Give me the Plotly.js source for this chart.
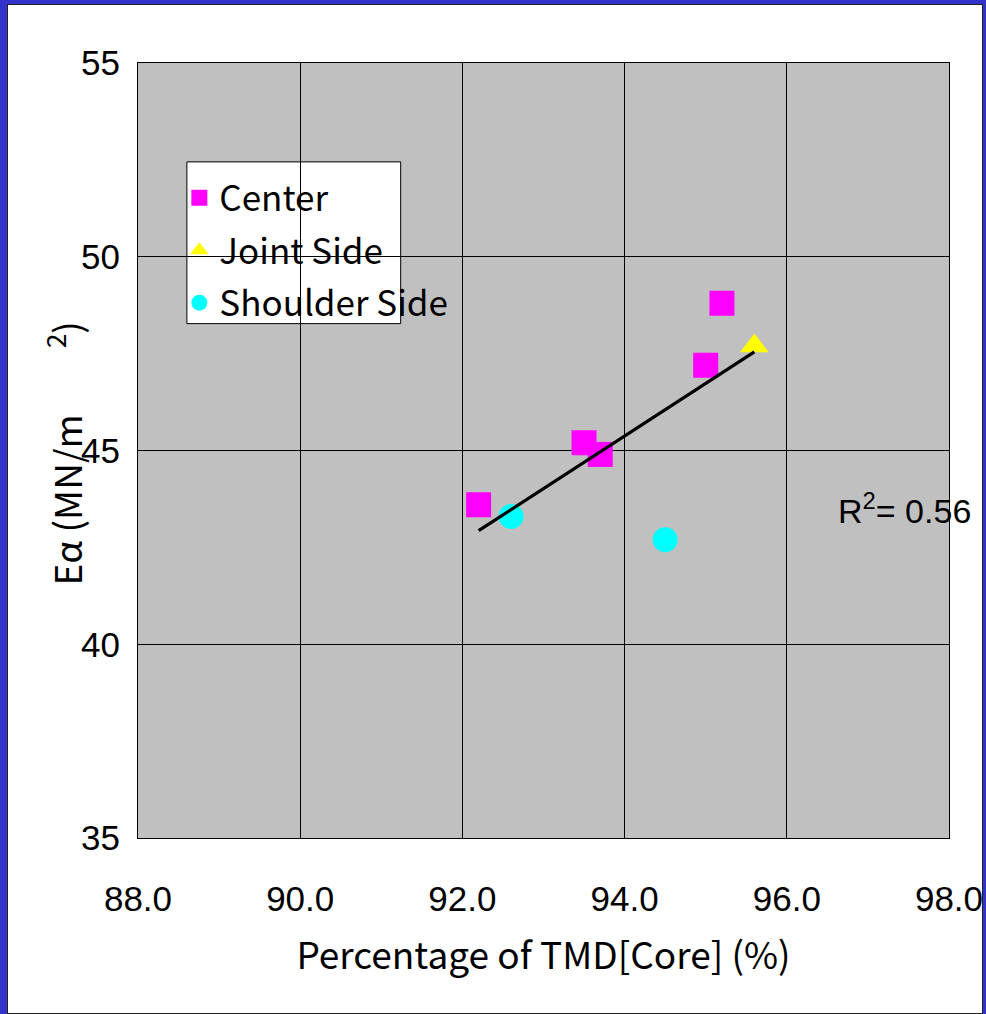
<!DOCTYPE html>
<html>
<head>
<meta charset="utf-8">
<script src="https://cdn.plot.ly/plotly-3.0.1.min.js"></script>
<style>
  html, body { margin: 0; padding: 0; background: #3333CC; width: 986px; height: 1014px; overflow: hidden; }
  #frame { position: absolute; left: 7px; top: 4px; width: 976px; height: 1010px; background: #fff; border: 1px solid #222; box-sizing: border-box; overflow: hidden; }
  #chart { position: absolute; left: 0; top: 0; width: 974px; height: 1009px; }
</style>
</head>
<body>
<div id="frame"><div id="chart"></div></div>
<script>
// Data
const centerX = [92.2, 93.5, 93.7, 95.0, 95.2];
const centerY = [43.6, 45.2, 44.9, 47.2, 48.8];
const jointX = [95.6];
const jointY = [47.7];
const shoulderX = [92.6, 94.5];
const shoulderY = [43.3, 42.7];
const xTickVals = [88, 90, 92, 94, 96, 98];
const xTickText = ["88.0", "90.0", "92.0", "94.0", "96.0", "98.0"];
const yTickVals = [35, 40, 45, 50, 55];

// Linear regression over all points
const allX = centerX.concat(jointX, shoulderX);
const allY = centerY.concat(jointY, shoulderY);
const n = allX.length;
const mx = allX.reduce((a, b) => a + b, 0) / n;
const my = allY.reduce((a, b) => a + b, 0) / n;
let sxy = 0, sxx = 0, syy = 0;
for (let i = 0; i < n; i++) {
  sxy += (allX[i] - mx) * (allY[i] - my);
  sxx += (allX[i] - mx) ** 2;
  syy += (allY[i] - my) ** 2;
}
const slope = sxy / sxx;
const intercept = my - slope * mx;
const r2 = (sxy * sxy) / (sxx * syy);
const lineX = [Math.min(...allX), Math.max(...allX)];
const lineY = lineX.map(v => intercept + slope * v);

const jpFont = '"Noto Sans CJK JP", "Noto Sans", sans-serif';
const numFont = '"Liberation Sans", Arial, sans-serif';

const traces = [
  { x: centerX, y: centerY, type: 'scatter', mode: 'markers', name: 'Center', legendgroup: 'a',
    marker: { symbol: 'square', size: 25, color: '#FF00FF' } },
  { x: jointX, y: jointY, type: 'scatter', mode: 'markers', name: 'Joint Side', legendgroup: 'b',
    marker: { symbol: 'triangle-up', size: 25, color: '#FFFF00' } },
  { x: shoulderX, y: shoulderY, type: 'scatter', mode: 'markers', name: 'Shoulder Side', legendgroup: 'c',
    marker: { symbol: 'circle', size: 25, color: '#00FFFF' } },
  { x: lineX, y: lineY, type: 'scatter', mode: 'lines', showlegend: false,
    line: { color: '#000', width: 3.2 }, hoverinfo: 'skip' }
];

const layout = {
  width: 974, height: 1009,
  margin: { l: 130, r: 33, t: 58, b: 176 },
  paper_bgcolor: '#ffffff',
  plot_bgcolor: '#C0C0C0',
  showlegend: true,
  xaxis: {
    range: [88, 98], tickvals: xTickVals, ticktext: xTickText,
    showgrid: true, gridcolor: '#000', gridwidth: 1,
    zeroline: false, showline: true, linecolor: '#000', linewidth: 1, mirror: true,
    ticks: '', ticklabelstandoff: 30, ticklabeloverflow: 'allow',
    tickfont: { family: numFont, size: 35, color: '#000' },
    title: { text: 'Percentage of TMD[Core] (%)', font: { family: jpFont, size: 37, color: '#000' }, standoff: 26 }
  },
  yaxis: {
    range: [35, 55], tickvals: yTickVals,
    showgrid: true, gridcolor: '#000', gridwidth: 1,
    zeroline: false, showline: true, linecolor: '#000', linewidth: 1, mirror: true,
    ticks: '', ticklabelstandoff: 10,
    tickfont: { family: numFont, size: 35, color: '#000' }
  },
  legend: {
    x: 0.051, y: 0.864, xanchor: 'left', yanchor: 'top',
    bgcolor: 'rgba(0,0,0,0)', borderwidth: 0,
    traceorder: 'grouped', tracegroupgap: 4,
    font: { family: jpFont, size: 35, color: '#000' },
    itemwidth: 30
  },
  shapes: [{
    type: 'rect', xref: 'paper', yref: 'paper', layer: 'between',
    x0: 0.0603, x1: 0.3239, y0: 0.6637, y1: 0.8724,
    fillcolor: '#ffffff', line: { color: '#000', width: 1 }
  }],
  annotations: [
    {
      x: 97.45, y: 43.5, xref: 'x', yref: 'y', showarrow: false,
      text: 'R<sup>2</sup>= ' + r2.toFixed(2),
      font: { family: numFont, size: 34, color: '#000' }
    },
    {
      x: -0.09, y: 0.496, xref: 'paper', yref: 'paper', showarrow: false,
      textangle: -90, xanchor: 'center', yanchor: 'middle',
      text: 'Eα (MN/m\u00A0\u00A0\u00A0\u00A0\u00A0\u00A0\u00A0\u00A0<sup>2</sup>)',
      font: { family: jpFont, size: 37, color: '#000' }
    }
  ]
};

Plotly.newPlot('chart', traces, layout, { displayModeBar: false, staticPlot: true });
</script>
</body>
</html>
